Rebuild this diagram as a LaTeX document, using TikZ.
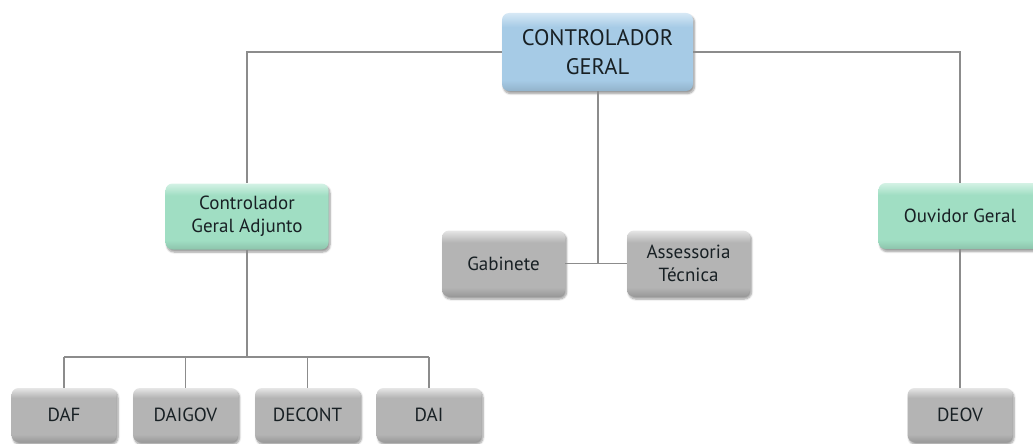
\documentclass[tikz,border=0pt]{standalone}
\usepackage{fontspec}
\setmainfont{PT Sans}
\usetikzlibrary{shadows.blur}
\definecolor{bluemain}{HTML}{A6CBE6}
\definecolor{bluelight}{HTML}{D6E8F5}
\definecolor{greenmain}{HTML}{A0DEC3}
\definecolor{greenlight}{HTML}{D4F2E5}
\definecolor{graymain}{HTML}{B4B4B4}
\definecolor{graylight}{HTML}{E6E6E6}
\definecolor{txt}{HTML}{182024}
\definecolor{linec}{HTML}{8C8C8C}
\pgfdeclareverticalshading{blueshade}{100bp}{color(0bp)=(bluemain!88!black); color(25bp)=(bluemain!88!black); color(32bp)=(bluemain); color(66bp)=(bluemain); color(75bp)=(bluelight); color(100bp)=(bluelight)}
\pgfdeclareverticalshading{greenshade}{100bp}{color(0bp)=(greenmain!88!black); color(25bp)=(greenmain!88!black); color(32bp)=(greenmain); color(66bp)=(greenmain); color(75bp)=(greenlight); color(100bp)=(greenlight)}
\pgfdeclareverticalshading{grayshade}{100bp}{color(0bp)=(graymain!85!black); color(25bp)=(graymain!85!black); color(32bp)=(graymain); color(66bp)=(graymain); color(75bp)=(graylight); color(100bp)=(graylight)}
\tikzset{
  orgbox/.style={rounded corners=7pt, inner sep=0pt, align=center, text=txt,
    blur shadow={shadow xshift=1.5pt, shadow yshift=-2.5pt, shadow blur steps=6, shadow opacity=40}},
  topbox/.style={orgbox, shading=blueshade, minimum width=191pt, minimum height=78pt,
    font=\fontsize{22.5}{29}\selectfont},
  greenbox/.style={orgbox, shading=greenshade, minimum width=163pt, minimum height=66pt,
    font=\fontsize{19}{23}\selectfont},
  graybox/.style={orgbox, shading=grayshade, minimum height=66pt,
    font=\fontsize{19}{23}\selectfont},
  smallbox/.style={orgbox, shading=grayshade, minimum width=105pt, minimum height=54pt,
    font=\fontsize{19}{23}\selectfont},
  conn/.style={draw=linec, line width=1.4pt}
}
\begin{document}
\begin{tikzpicture}[x=1pt,y=-1pt]
\useasboundingbox (0,0) rectangle (1033,444);
\node[topbox] (cg) at (597.5,52) {CONTROLADOR\\GERAL};
\node[greenbox] (cga) at (247,216.5) {Controlador\\Geral Adjunto};
\node[greenbox] (ov) at (960,216) {Ouvidor Geral};
\node[graybox, minimum width=123pt] (gab) at (503.5,263.5) {Gabinete};
\node[graybox, minimum width=123pt] (ass) at (688.5,263.5) {Assessoria\\Técnica};
\node[smallbox] (daf) at (64,415) {DAF};
\node[smallbox] (daigov) at (185.5,415) {DAIGOV};
\node[smallbox] (decont) at (307.5,415) {DECONT};
\node[smallbox] (dai) at (429,415) {DAI};
\node[smallbox] (deov) at (960,415) {DEOV};
\coordinate (bus) at (247,357);
\coordinate (mid) at (598,263.5);
\draw[conn] (cg.west) -| (cga.north);
\draw[conn] (cg.east) -| (ov.north);
\draw[conn] (cg.south -| mid) -- (mid);
\draw[conn] (gab.east) -- (ass.west);
\draw[conn] (cga.south) -- (bus);
\draw[conn] (daf.north |- bus) -- (dai.north |- bus);
\draw[conn] (daf.north |- bus) -- (daf.north);
\draw[conn] (daigov.north |- bus) -- (daigov.north);
\draw[conn] (decont.north |- bus) -- (decont.north);
\draw[conn] (dai.north |- bus) -- (dai.north);
\draw[conn] (ov.south) -- (deov.north);
\end{tikzpicture}
\end{document}
